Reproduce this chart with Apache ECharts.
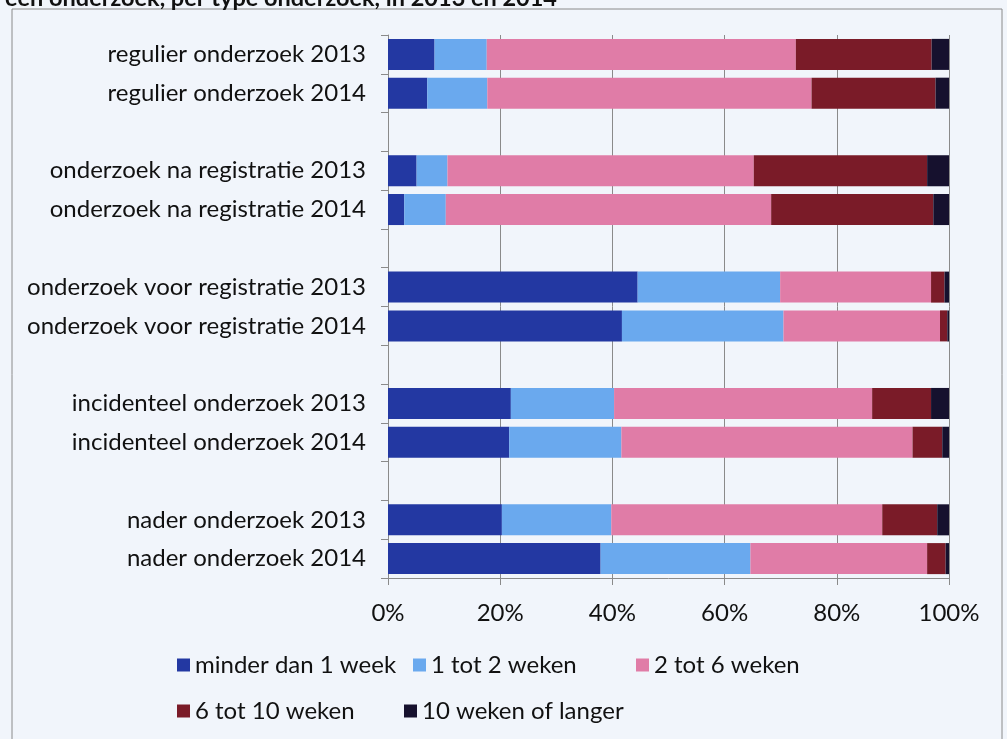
<!DOCTYPE html>
<html>
<head>
<meta charset="utf-8">
<script src="https://cdn.jsdelivr.net/npm/echarts@6/dist/echarts.min.js"></script>
<style>
  html, body { margin: 0; padding: 0; background: #f1f5fb; }
  #main { width: 1007px; height: 739px; }
</style>
</head>
<body>
<div id="main"></div>
<script>
// category rows, blanks between the groups
const categories = [
  'regulier onderzoek 2013', 'regulier onderzoek 2014', ' ',
  'onderzoek na registratie 2013', 'onderzoek na registratie 2014', '  ',
  'onderzoek voor registratie 2013', 'onderzoek voor registratie 2014', '   ',
  'incidenteel onderzoek 2013', 'incidenteel onderzoek 2014', '    ',
  'nader onderzoek 2013', 'nader onderzoek 2014'
]
const seriesNames = ['minder dan 1 week', '1 tot 2 weken', '2 tot 6 weken', '6 tot 10 weken', '10 weken of langer']
// percentages per row (null = spacer row)
const minderDan1 = [8.3, 7.0, null, 5.1, 2.9, null, 44.5, 41.7, null, 21.9, 21.6, null, 20.3, 37.9]
const tot2 = [9.3, 10.7, null, 5.5, 7.4, null, 25.4, 28.8, null, 18.4, 20.0, null, 19.5, 26.7]
const tot6 = [55.1, 57.8, null, 54.6, 58.0, null, 26.9, 27.9, null, 46.0, 51.9, null, 48.3, 31.5]
const tot10 = [24.2, 22.1, null, 30.9, 28.9, null, 2.4, 1.3, null, 10.5, 5.3, null, 9.8, 3.3]
const langer = [3.2, 2.4, null, 3.9, 2.8, null, 0.8, 0.3, null, 3.2, 1.2, null, 2.1, 0.6]
const xTicks = [0, 20, 40, 60, 80, 100]

const colors = ['#2338a2', '#6aa9ee', '#e07ca7', '#7a1b28', '#16112e']
const allData = [minderDan1, tot2, tot6, tot10, langer]

const chart = echarts.init(document.getElementById('main'))
const font = 'Lato, "Open Sans", sans-serif'

// one legend per item so the columns line up like the original
const legendPos = [[172, 648], [408, 648], [631, 648], [172, 694], [399, 694]]
const legends = seriesNames.map((name, i) => ({
  data: [name],
  left: legendPos[i][0],
  top: legendPos[i][1],
  itemWidth: 13,
  itemHeight: 13,
  itemGap: 0,
  itemTextGap: 8,
  icon: 'rect',
  textStyle: { fontFamily: font, fontSize: 24, color: '#111' }
}))

const option = {
  backgroundColor: '#f1f5fb',
  textStyle: { fontFamily: font },
  title: {
    text: 'een onderzoek, per type onderzoek, in 2013 en 2014',
    left: 0,
    top: -19,
    textStyle: { fontFamily: font, fontSize: 23.5, fontWeight: 'bold', color: '#111' }
  },
  graphic: [
    {
      type: 'rect',
      shape: { x: 12, y: 9, width: 990, height: 760 },
      style: { fill: null, stroke: '#8a8a8a', lineWidth: 1 },
      silent: true
    }
  ],
  legend: legends,
  grid: { left: 388, right: 58, top: 35, bottom: 161 },
  xAxis: {
    type: 'value',
    min: 0,
    max: 100,
    interval: 20,
    axisLine: { show: true, lineStyle: { color: '#8a8a8a' } },
    axisTick: { show: true, length: 7, lineStyle: { color: '#8a8a8a' } },
    splitLine: { show: true, lineStyle: { color: '#8a8a8a', width: 1 } },
    axisLabel: {
      margin: 23,
      fontSize: 24,
      color: '#111',
      fontFamily: font,
      formatter: v => (xTicks.includes(v) ? v + '%' : '')
    }
  },
  yAxis: {
    type: 'category',
    inverse: true,
    data: categories,
    axisLine: { show: true, lineStyle: { color: '#8a8a8a' } },
    axisTick: { show: true, length: 7, lineStyle: { color: '#8a8a8a' } },
    axisLabel: { margin: 22, fontSize: 24, color: '#111', fontFamily: font }
  },
  series: allData.map((d, i) => ({
    name: seriesNames[i],
    type: 'bar',
    stack: 'total',
    barCategoryGap: '20%',
    itemStyle: { color: colors[i] },
    data: d
  }))
}
chart.setOption(option)
</script>
</body>
</html>
